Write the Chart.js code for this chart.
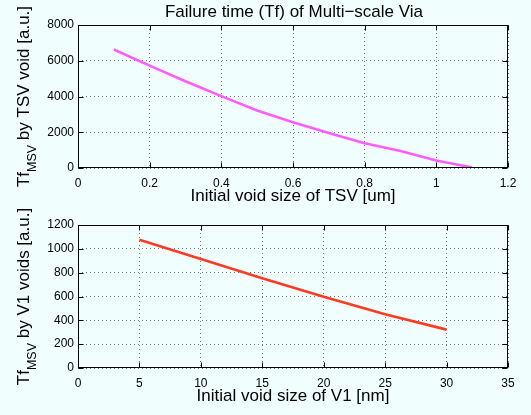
<!DOCTYPE html>
<html><head><meta charset="utf-8">
<script src="https://cdn.jsdelivr.net/npm/chart.js@4/dist/chart.umd.min.js"></script>
<style>
html,body{margin:0;padding:0;background:#f0fefe;width:531px;height:415px;overflow:hidden}
canvas{position:absolute;left:0;top:0}
</style></head><body>
<canvas id="c1" width="531" height="415"></canvas>
<canvas id="c2" width="531" height="415"></canvas>
<script>
// ---- data ----
const tsvSize = [0.1, 0.2, 0.3, 0.4, 0.5, 0.6, 0.7, 0.8, 0.9, 1.0, 1.1];
const tsvTf   = [6630, 5730, 4850, 4020, 3220, 2560, 1960, 1380, 950, 420, 30];
const v1Size  = [5, 10, 15, 20, 25, 30];
const v1Tf    = [1077, 914, 754, 597, 451, 322];

const topXTicks = [0, 0.2, 0.4, 0.6, 0.8, 1, 1.2];
const topYTicks = [0, 2000, 4000, 6000, 8000];
const botXTicks = [0, 5, 10, 15, 20, 25, 30, 35];
const botYTicks = [0, 200, 400, 600, 800, 1000, 1200];

const titleText = 'Failure time (Tf) of Multi\u2212scale Via';
const topXLabel = 'Initial void size of TSV [um]';
const botXLabel = 'Initial void size of V1 [nm]';
const topYLabel = ['Tf', 'MSV', ' by TSV void [a.u.]'];
const botYLabel = ['Tf', 'MSV', ' by V1 voids [a.u.]'];

const FONT = '"Liberation Sans", Arial, Helvetica, sans-serif';

function fmt(v){ return String(+v.toFixed(2)); }

function framePlugin(opts){
  return {
    id: 'frame',
    afterDraw(chart){
      const ctx = chart.ctx, a = chart.chartArea;
      const xs = chart.scales.x, ys = chart.scales.y;
      ctx.save();
      ctx.strokeStyle = '#000';
      ctx.lineWidth = 1;
      const L = Math.round(a.left) + 0.5, R = Math.round(a.right) - 0.5;
      const T = Math.round(a.top) + 0.5, B = Math.round(a.bottom) - 0.5;
      ctx.strokeRect(L, T, R - L, B - T);
      // inward ticks
      ctx.beginPath();
      opts.xTicks.forEach(v => {
        const px = Math.round(xs.getPixelForValue(v)) + 0.5;
        ctx.moveTo(px, B); ctx.lineTo(px, B - 5);
        ctx.moveTo(px, T); ctx.lineTo(px, T + 5);
      });
      opts.yTicks.forEach(v => {
        const py = Math.round(ys.getPixelForValue(v)) + 0.5;
        ctx.moveTo(L, py); ctx.lineTo(L + 5, py);
        ctx.moveTo(R, py); ctx.lineTo(R - 5, py);
      });
      ctx.stroke();
      // texts
      ctx.fillStyle = '#000';
      const cx = (a.left + a.right) / 2;
      ctx.font = '17px ' + FONT;
      ctx.textAlign = 'center';
      ctx.textBaseline = 'alphabetic';
      if (opts.title) ctx.fillText(opts.title, cx + 1, a.top - 8);
      ctx.fillText(opts.xLabel, cx, a.bottom + 33);
      // y label with subscript
      const cy = (a.top + a.bottom) / 2;
      const [p1, sub, p2] = opts.yLabel;
      ctx.font = '17px ' + FONT; const w1 = ctx.measureText(p1).width;
      const w3 = ctx.measureText(p2).width;
      ctx.font = '12.5px ' + FONT; const w2 = ctx.measureText(sub).width;
      const total = w1 + w2 + w3;
      ctx.translate(28.5, cy);
      ctx.rotate(-Math.PI / 2);
      ctx.textAlign = 'left';
      let x0 = -total / 2;
      ctx.font = '17px ' + FONT; ctx.fillText(p1, x0, 0);
      ctx.font = '12.5px ' + FONT; ctx.fillText(sub, x0 + w1, 7);
      ctx.font = '17px ' + FONT; ctx.fillText(p2, x0 + w1 + w2, 0);
      ctx.restore();
    }
  };
}

function makeChart(id, xs, ys, color, xTicks, yTicks, pad, texts){
  const xMin = xTicks[0], xMax = xTicks[xTicks.length - 1];
  const yMin = yTicks[0], yMax = yTicks[yTicks.length - 1];
  return new Chart(document.getElementById(id), {
    type: 'scatter',
    data: { datasets: [{
      data: xs.map((x, i) => ({ x: x, y: ys[i] })),
      showLine: true, borderColor: color, borderWidth: 2.6,
      pointRadius: 0, fill: false, tension: 0
    }]},
    options: {
      responsive: false, animation: false,
      layout: { padding: pad },
      plugins: { legend: { display: false }, tooltip: { enabled: false } },
      scales: {
        x: {
          type: 'linear', min: xMin, max: xMax,
          afterBuildTicks: s => { s.ticks = xTicks.map(v => ({ value: v })); },
          afterFit: s => { s.height = 32; },
          ticks: { autoSkip: false, maxRotation: 0, padding: 8, color: '#000',
                   font: { size: 12, family: FONT }, callback: v => fmt(v) },
          grid: { color: '#6f7777', lineWidth: 1, drawTicks: false },
          border: { display: false, dash: [1, 3] }
        },
        y: {
          type: 'linear', min: yMin, max: yMax,
          afterBuildTicks: s => { s.ticks = yTicks.map(v => ({ value: v })); },
          afterFit: s => { s.width = 78; },
          ticks: { autoSkip: false, padding: 4, color: '#000',
                   font: { size: 12, family: FONT }, callback: v => fmt(v) },
          grid: { color: '#6f7777', lineWidth: 1, drawTicks: false },
          border: { display: false, dash: [1, 3] }
        }
      }
    },
    plugins: [framePlugin({ xTicks, yTicks, ...texts })]
  });
}

makeChart('c1', tsvSize, tsvTf, '#ff5cff', topXTicks, topYTicks,
  { left: 0, right: 23, top: 25, bottom: 415 - 168 - 32 },
  { title: titleText, xLabel: topXLabel, yLabel: topYLabel });
makeChart('c2', v1Size, v1Tf, '#ff3a22', botXTicks, botYTicks,
  { left: 0, right: 23, top: 225, bottom: 415 - 368 - 32 },
  { title: null, xLabel: botXLabel, yLabel: botYLabel });
</script>
</body></html>
